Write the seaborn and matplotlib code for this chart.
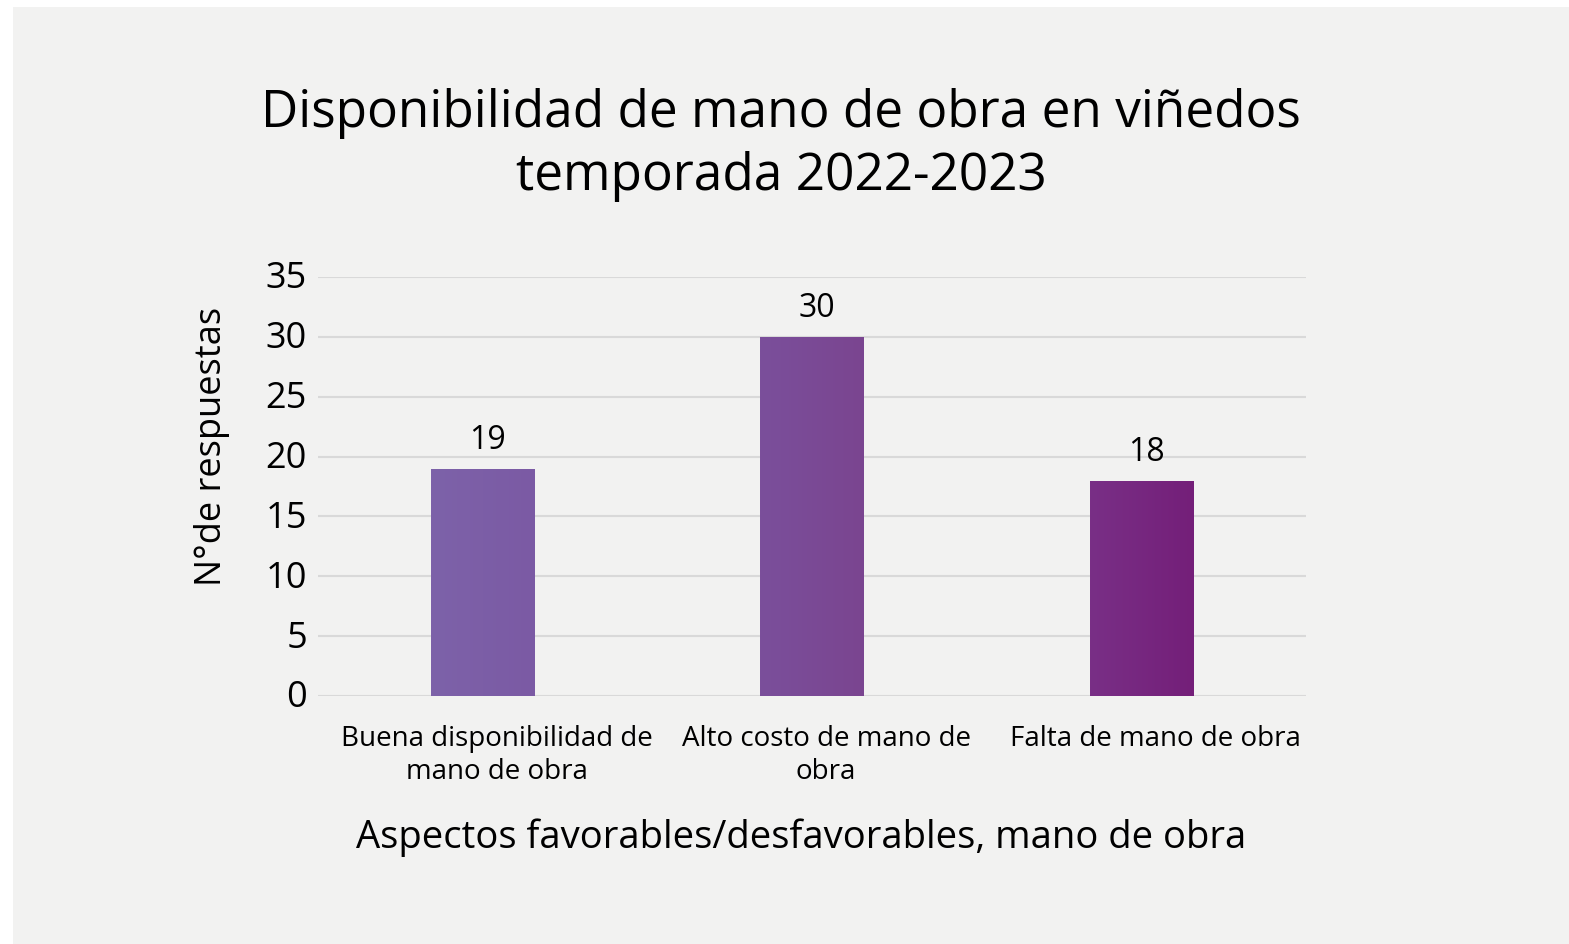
import numpy as np
import pandas as pd
import matplotlib
matplotlib.use('Agg')
from matplotlib import pyplot as plt
from matplotlib.colors import LinearSegmentedColormap
from matplotlib.transforms import ScaledTranslation
import seaborn as sns

categorias = ["Buena disponibilidad de\nmano de obra", "Alto costo de mano de\nobra", "Falta de mano de obra"]
respuestas = [19, 30, 18]
# left/right colour of each bar's horizontal gradient
color_izq = ["#7d62a9", "#7b4f9b", "#792f86"]
color_der = ["#7b5aa4", "#7a4590", "#741f79"]

titulo = "Disponibilidad de mano de obra en viñedos\ntemporada 2022-2023"
eje_x = "Aspectos favorables/desfavorables, mano de obra"
eje_y = "N°de respuestas"

sns.set_theme(style="white")
plt.rcParams['font.family'] = ['Open Sans', 'DejaVu Sans']
plt.rcParams['text.color'] = 'black'
plt.rcParams['xtick.color'] = 'black'
plt.rcParams['ytick.color'] = 'black'

bg = "#f2f2f1"
fig = plt.figure(figsize=(15.69, 9.45), dpi=100, facecolor="white")
fig.patches.append(plt.Rectangle((13/1569, 0), 1, 1 - 8/945, transform=fig.transFigure,
                                 facecolor=bg, edgecolor="none", zorder=-10))
ax = fig.add_axes([318/1569, 1 - 697/945, 988/1569, 419/945])
ax.set_zorder(2)
ax.set_facecolor(bg)

df = pd.DataFrame({"cat": categorias, "n": respuestas})
sns.barplot(data=df, x="cat", y="n", hue="cat", palette=color_izq, width=0.313,
            legend=False, ax=ax, zorder=3)

# gradient fill clipped to each bar
for patch, c0, c1 in zip(ax.patches, color_izq, color_der):
    x0, y0 = patch.get_x(), patch.get_y()
    w, h = patch.get_width(), patch.get_height()
    cmap = LinearSegmentedColormap.from_list("g", [c0, c1])
    im = ax.imshow(np.linspace(0, 1, 64).reshape(1, -1), cmap=cmap, aspect="auto",
                   extent=[x0, x0 + w, y0, y0 + h], zorder=4)
    im.set_clip_path(patch)
    patch.set_edgecolor("none")

for i, v in enumerate(respuestas):
    ax.annotate(str(v), (i + 0.015, v), xytext=(0, 9), textcoords="offset points",
                ha="center", va="bottom", fontsize=23, color="black")

ax.set_xlim(-0.5, 2.5)
ax.set_ylim(0, 35)
ax.set_yticks(range(0, 36, 5))
ax.yaxis.grid(True, color="#d9d9d9", linewidth=1.5, zorder=0)
ax.set_axisbelow(True)
for s in ax.spines.values():
    s.set_visible(False)
ax.tick_params(axis="y", labelsize=26, pad=8, length=0, labelcolor="black")
ax.tick_params(axis="x", labelsize=20, pad=20, length=0, labelcolor="black")
for t in ax.get_yticklabels():
    t.set_va("center_baseline")
    t.set_transform(t.get_transform() + ScaledTranslation(0, 3/100, fig.dpi_scale_trans))
for t in ax.get_xticklabels():
    t.set_linespacing(1.25)
    t.set_transform(t.get_transform() + ScaledTranslation(14/100, 0, fig.dpi_scale_trans))
ax.set_xlabel("")
ax.set_ylabel("")

fig.text(781/1569, 1 - 88/945, titulo, ha="center", va="top", fontsize=37, linespacing=1.3)
fig.text(801/1569, 1 - 838/945, eje_x, ha="center", va="center", fontsize=27.5)
fig.text(212/1569, 1 - 446/945, eje_y, ha="center", va="center", rotation=90, fontsize=26)

fig.savefig("out.png", dpi=100, facecolor=fig.get_facecolor())
